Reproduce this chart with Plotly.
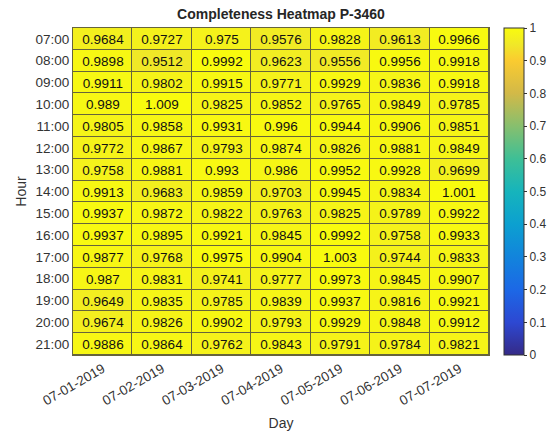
import plotly.graph_objects as go

days = ["07-01-2019", "07-02-2019", "07-03-2019", "07-04-2019",
        "07-05-2019", "07-06-2019", "07-07-2019"]
hours = ["07:00", "08:00", "09:00", "10:00", "11:00", "12:00", "13:00", "14:00",
         "15:00", "16:00", "17:00", "18:00", "19:00", "20:00", "21:00"]

# completeness per hour (rows) and day (columns)
h07 = [0.9684, 0.9727, 0.975, 0.9576, 0.9828, 0.9613, 0.9966]
h08 = [0.9898, 0.9512, 0.9992, 0.9623, 0.9556, 0.9956, 0.9918]
h09 = [0.9911, 0.9802, 0.9915, 0.9771, 0.9929, 0.9836, 0.9918]
h10 = [0.989, 1.009, 0.9825, 0.9852, 0.9765, 0.9849, 0.9785]
h11 = [0.9805, 0.9858, 0.9931, 0.996, 0.9944, 0.9906, 0.9851]
h12 = [0.9772, 0.9867, 0.9793, 0.9874, 0.9826, 0.9881, 0.9849]
h13 = [0.9758, 0.9881, 0.993, 0.986, 0.9952, 0.9928, 0.9699]
h14 = [0.9913, 0.9683, 0.9859, 0.9703, 0.9945, 0.9834, 1.001]
h15 = [0.9937, 0.9872, 0.9822, 0.9763, 0.9825, 0.9789, 0.9922]
h16 = [0.9937, 0.9895, 0.9921, 0.9845, 0.9992, 0.9758, 0.9933]
h17 = [0.9877, 0.9768, 0.9975, 0.9904, 1.003, 0.9744, 0.9833]
h18 = [0.987, 0.9831, 0.9741, 0.9777, 0.9973, 0.9845, 0.9907]
h19 = [0.9649, 0.9835, 0.9785, 0.9839, 0.9937, 0.9816, 0.9921]
h20 = [0.9674, 0.9826, 0.9902, 0.9793, 0.9929, 0.9848, 0.9912]
h21 = [0.9886, 0.9864, 0.9762, 0.9843, 0.9791, 0.9784, 0.9821]

z = [h07, h08, h09, h10, h11, h12, h13, h14, h15, h16, h17, h18, h19, h20, h21]

parula = [
    [0.00, "rgb(53,42,135)"],
    [0.10, "rgb(45,72,210)"],
    [0.20, "rgb(28,104,230)"],
    [0.30, "rgb(18,132,220)"],
    [0.40, "rgb(12,160,208)"],
    [0.50, "rgb(22,180,188)"],
    [0.60, "rgb(62,191,150)"],
    [0.70, "rgb(135,191,110)"],
    [0.80, "rgb(210,185,72)"],
    [0.90, "rgb(250,203,48)"],
    [0.95, "rgb(240,232,40)"],
    [1.00, "rgb(249,251,14)"],
]

FONT = "Liberation Sans, Arial, sans-serif"

fig = go.Figure(go.Heatmap(
    x=days, y=hours, z=z,
    zmin=0, zmax=1,
    colorscale=parula,
    xgap=1, ygap=1,
    texttemplate="%{z:.4~g}",
    textfont=dict(size=13.5, color="#111111", family=FONT),
    colorbar=dict(
        x=1.036, xanchor="left", y=0.5, yanchor="middle",
        xpad=0, ypad=0,
        len=1.0, lenmode="fraction", thickness=20,
        outlinewidth=1, outlinecolor="#333333",
        tickvals=[0, 0.1, 0.2, 0.3, 0.4, 0.5, 0.6, 0.7, 0.8, 0.9, 1],
        ticktext=["0", "0.1", "0.2", "0.3", "0.4", "0.5", "0.6", "0.7", "0.8", "0.9", "1"],
        ticks="outside", ticklen=3, tickcolor="#333333",
        tickfont=dict(size=12, color="#333333", family=FONT),
    ),
))

fig.update_layout(
    width=550, height=434,
    margin=dict(l=73, r=61, t=28, b=79, autoexpand=False),
    paper_bgcolor="white",
    plot_bgcolor="#66643c",
    font=dict(family=FONT, color="#333333"),
    title=dict(text="<b>Completeness Heatmap P-3460</b>", x=0.5, xref="paper",
               xanchor="center", y=1, yref="container", yanchor="top", pad=dict(t=9),
               font=dict(size=14, color="#262626")),
    xaxis=dict(title=dict(text="Day", font=dict(size=14, color="#333333"), standoff=10),
               tickangle=-30, tickfont=dict(size=13.5, color="#333333"),
               showline=True, linecolor="#66643c", linewidth=1, mirror=True,
               ticks="", showgrid=False, automargin=False),
    yaxis=dict(title=dict(text="Hour", font=dict(size=14, color="#333333"), standoff=5),
               autorange="reversed", tickfont=dict(size=13.5, color="#333333"),
               showline=True, linecolor="#66643c", linewidth=1, mirror=True,
               ticks="", showgrid=False, automargin=False),
)

fig.write_html("out.html")
